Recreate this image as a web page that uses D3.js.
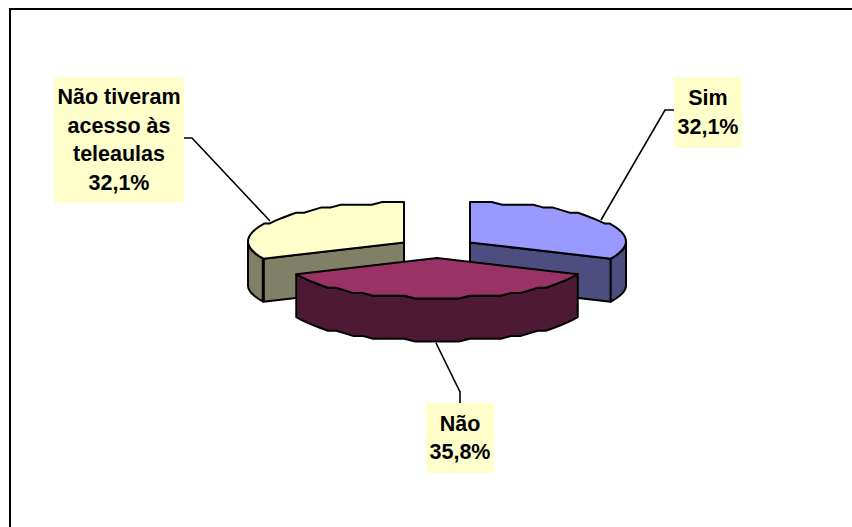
<!DOCTYPE html>
<html><head><meta charset="utf-8">
<style>html,body{margin:0;padding:0;background:#fff;overflow:hidden}svg{display:block}</style>
<script src="https://cdnjs.cloudflare.com/ajax/libs/d3/7.8.5/d3.min.js"></script>
</head><body>
<svg id="c" width="852" height="527"></svg>
<script>
const categories = ["Sim", "Não", "Não tiveram acesso às teleaulas"];
const values = [32.1, 35.8, 32.1];
const valueLabels = ["32,1%", "35,8%", "32,1%"];
const labelLines = [["Sim"], ["Não"], ["Não tiveram", "acesso às", "teleaulas"]];
const topColors = ["#9999FF", "#993366", "#FFFFCC"];
const sideColors = ["#4D4D80", "#4D1933", "#808066"];

const W = 852, H = 527;
const rx = 156, ry = 40, depth = 43, strokeW = 2, yGrid = 2.7;
const apex = [[470, 242.5], [437, 258], [404, 242.5]];
const boxes = [[674, 77, 68, 71], [426, 403, 68, 70], [54, 77, 130, 126]];
const leaders = [
  [[674, 110], [665, 110], [601, 220]],
  [[436, 343], [460, 392], [460, 403]],
  [[184, 138], [192, 138], [270, 221]]
];

const svg = d3.select("#c");
svg.append("rect").attr("x", 10).attr("y", 9).attr("width", W + 20).attr("height", H + 20)
  .attr("fill", "#fff").attr("stroke", "#000").attr("stroke-width", 2).attr("shape-rendering", "crispEdges");

const arcs = d3.pie().sort(null).value(d => d).startAngle(0).endAngle(2 * Math.PI)(values);
const xs = d3.scaleLinear().domain([-1, 1]).range([-rx, rx]);
const ys = d3.scaleLinear().domain([-1, 1]).range([-ry, ry]);
// the rim is stepped vertically, the way the original low-resolution pie is
const pt = (i, a, dz = 0) => [
  apex[i][0] + xs(Math.sin(a)),
  apex[i][1] + Math.round(ys(-Math.cos(a)) / yGrid) * yGrid + dz
];
const line = d3.line();
const STEP = 0.07;
function rimAngles(a0, a1) {
  const out = [], n = Math.max(2, Math.round((a1 - a0) / STEP));
  const sc = d3.scaleLinear().domain([0, n]).range([a0, a1]);
  for (let k = 0; k <= n; k++) out.push(sc(k));
  return out;
}
function shape(g, pts, fill, width) {
  g.append("path").attr("d", line(pts) + "Z").attr("fill", fill)
    .attr("stroke", "#000").attr("stroke-width", width || strokeW)
    .attr("stroke-linejoin", "round");
}
// leaders underneath the slices
const lg = svg.append("g");
leaders.forEach(l => lg.append("path").attr("d", line(l)).attr("fill", "none")
  .attr("stroke", "#000").attr("stroke-width", 1.6));

// draw back slices first, exploded centre slice last
[0, 2, 1].forEach(i => {
  const d = arcs[i], g = svg.append("g");
  const apx = apex[i];
  const top = [apx].concat(rimAngles(d.startAngle, d.endAngle).map(a => pt(i, a)));
  if (i === 0) {
    const e = d.endAngle, pe = pt(i, e);
    shape(g, [apx, pe, [pe[0], pe[1] + depth], [apx[0], apx[1] + depth]], sideColors[i]);
    const w = rimAngles(Math.PI / 2, e);
    shape(g, w.map(a => pt(i, a)).concat(w.slice().reverse().map(a => pt(i, a, depth))), sideColors[i]);
  } else if (i === 2) {
    const s = d.startAngle, ps = pt(i, s);
    const w = rimAngles(s, 3 * Math.PI / 2);
    shape(g, w.map(a => pt(i, a)).concat(w.slice().reverse().map(a => pt(i, a, depth))), sideColors[i]);
    shape(g, [apx, ps, [ps[0], ps[1] + depth], [apx[0], apx[1] + depth]], sideColors[i]);
    g.append("path").attr("d", line([ps, [ps[0], ps[1] + depth]])).attr("stroke", "#000").attr("stroke-width", 3);
  } else {
    const w = rimAngles(d.startAngle, d.endAngle);
    shape(g, w.map(a => pt(i, a)).concat(w.slice().reverse().map(a => pt(i, a, depth))), sideColors[i]);
  }
  shape(g, top, topColors[i]);
});

// labels
const lb = svg.append("g").attr("font-family", "'Liberation Sans', Arial, sans-serif")
  .attr("font-weight", "bold").attr("font-size", 21.5).attr("fill", "#000").attr("text-anchor", "middle");
categories.forEach((c, i) => {
  const [x, y, w, h] = boxes[i];
  lb.append("rect").attr("x", x).attr("y", y).attr("width", w).attr("height", h).attr("fill", "#FFFFCC");
  const lines = labelLines[i].concat([valueLabels[i]]);
  const lh = 28.4, y0 = y + h / 2 - (lines.length - 1) * lh / 2 + 7;
  lines.forEach((t, k) => lb.append("text").attr("x", x + w / 2).attr("y", y0 + k * lh).text(t));
});
</script>
</body></html>
